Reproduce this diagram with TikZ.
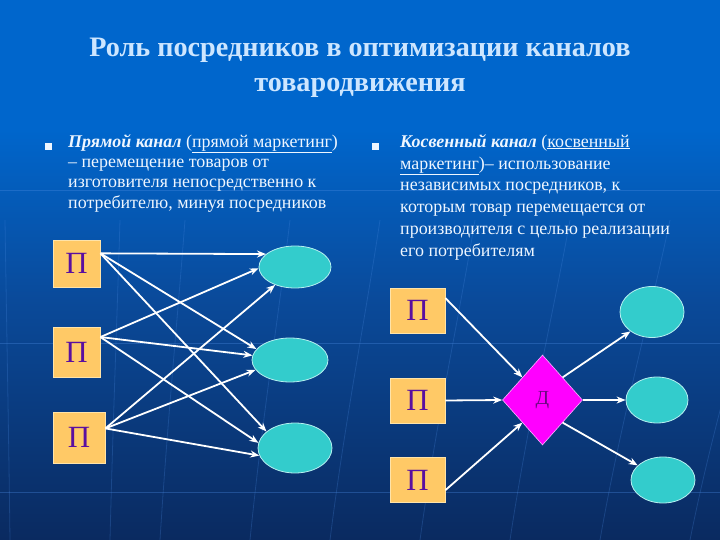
\documentclass[tikz,border=0pt]{standalone}
\usepackage{fontspec}
\setmainfont{Liberation Serif}
\usetikzlibrary{shapes.geometric,arrows.meta}
\definecolor{bgtop}{HTML}{0066CC}
\definecolor{bgmid}{HTML}{0A4A9A}
\definecolor{bgbot}{HTML}{0A2A60}
\definecolor{titlecol}{HTML}{CDE6FF}
\definecolor{txtcol}{HTML}{EEF6FF}
\definecolor{boxfill}{HTML}{FFC966}
\definecolor{boxline}{HTML}{FFE3A8}
\definecolor{pcol}{HTML}{5A0FA0}
\definecolor{ellfill}{HTML}{33CCCC}
\definecolor{ellline}{HTML}{B5F0F0}
\definecolor{dfill}{HTML}{FF00FF}
\definecolor{dline}{HTML}{FFB0FF}
\definecolor{dtext}{HTML}{6A0A80}
\definecolor{gridcol}{HTML}{4A8AE0}
\tikzset{
  pbox/.style={rectangle, fill=boxfill, draw=boxline, line width=0.8bp, inner sep=0pt,
    text=pcol, font=\fontsize{31}{31}\selectfont},
  cons/.style={ellipse, fill=ellfill, draw=ellline, line width=0.8bp, inner sep=0pt},
  dist/.style={diamond, fill=dfill, draw=dline, line width=0.6bp, inner sep=0pt,
    minimum width=80bp, minimum height=90bp, text=dtext, font=\fontsize{20}{20}\selectfont},
  conn/.style={draw=white, line width=1.8bp, -{Stealth[length=9bp,width=7bp]}},
  bodytext/.style={anchor=north west, align=left, text=txtcol, inner sep=0pt,
    font=\fontsize{18}{20.5}\selectfont},
  bullet/.style={fill=txtcol, minimum size=7bp, inner sep=0pt, rectangle},
  bgline/.style={draw=gridcol, line width=0.8bp, opacity=0.35}
}
\begin{document}
\begin{tikzpicture}[x=1bp,y=-1bp]
\useasboundingbox (0,0) rectangle (720,540);
% background
\fill[bgtop] (0,0) rectangle (720,130);
\shade[top color=bgtop, bottom color=bgmid] (0,129.5) rectangle (720,300);
\shade[top color=bgmid, bottom color=bgbot] (0,299.5) rectangle (720,540);
\foreach \yy in {190,343,492} \draw[bgline] (0,\yy) -- (720,\yy);
\foreach \xx/\dd in {10/-5,110/10,160/25,250/40,330/50,420/55,510/60,600/70,690/80}
  \draw[bgline, opacity=0.25] (\xx,540) .. controls (\xx+\dd*0.3,420) and (\xx+\dd*0.7,320) .. (\xx+\dd,220);
% title
\node[text=titlecol, align=center, font=\fontsize{28.3}{35}\selectfont\bfseries] (title) at (360,68)
  {Роль посредников в оптимизации каналов\\товародвижения};
% left text
\node[bullet] (bl) at (48,147) {};
\node[bodytext] (tl) at (68,134)
  {\textbf{\textit{Прямой канал}} (\underline{прямой маркетинг})\\
   – перемещение товаров от\\
   изготовителя непосредственно к\\
   потребителю, минуя посредников};
% right text
\node[bullet] (br) at (375,147) {};
\node[bodytext, font=\fontsize{18}{22}\selectfont] (tr) at (400,134)
  {\textbf{\textit{Косвенный канал}} (\underline{косвенный}\\
   \underline{маркетинг})– использование\\
   независимых посредников, к\\
   которым товар перемещается от\\
   производителя с целью реализации\\
   его потребителям};
% left diagram
\node[pbox, minimum width=47bp, minimum height=47bp] (b1) at (76.5,263.5) {П};
\node[pbox, minimum width=47bp, minimum height=50bp] (b2) at (76.5,352) {П};
\node[pbox, minimum width=52bp, minimum height=51bp] (b3) at (79,437.5) {П};
\node[cons, minimum width=72bp, minimum height=42bp] (e1) at (295,267) {};
\node[cons, minimum width=76bp, minimum height=44bp] (e2) at (290,360) {};
\node[cons, minimum width=74bp, minimum height=50bp] (e3) at (295,448) {};
\draw[conn] (b1.23) -- (e1.156);
\draw[conn] (b1.23) -- (e2.162);
\draw[conn] (b1.23) -- (e3.150);
\draw[conn] (b2.32) -- (e1.182);
\draw[conn] (b2.32) -- (e2.173);
\draw[conn] (b2.32) -- (e3.172);
\draw[conn] (b3.19) -- (e1.222);
\draw[conn] (b3.19) -- (e2.196);
\draw[conn] (b3.19) -- (e3.192);
% right diagram
\node[pbox, minimum width=55bp, minimum height=45bp] (b4) at (417.5,310.5) {П};
\node[pbox, minimum width=55bp, minimum height=45bp] (b5) at (417.5,400.5) {П};
\node[pbox, minimum width=55bp, minimum height=45bp] (b6) at (417.5,480) {П};
\node[dist] (d) at (542.5,400) {Д};
\node[cons, minimum width=64bp, minimum height=51bp] (e4) at (652,312) {};
\node[cons, minimum width=62bp, minimum height=46bp] (e5) at (657,400) {};
\node[cons, minimum width=64bp, minimum height=46bp] (e6) at (663,480) {};
\draw[conn] (b4.24) -- (d.north west);
\draw[conn] (b5.east) -- (d.west);
\draw[conn] (b6.-20) -- (d.south west);
\draw[conn] (d.north east) -- (e4.222);
\draw[conn] (d.east) -- (e5.west);
\draw[conn] (d.south east) -- (e6.150);
\end{tikzpicture}
\end{document}
